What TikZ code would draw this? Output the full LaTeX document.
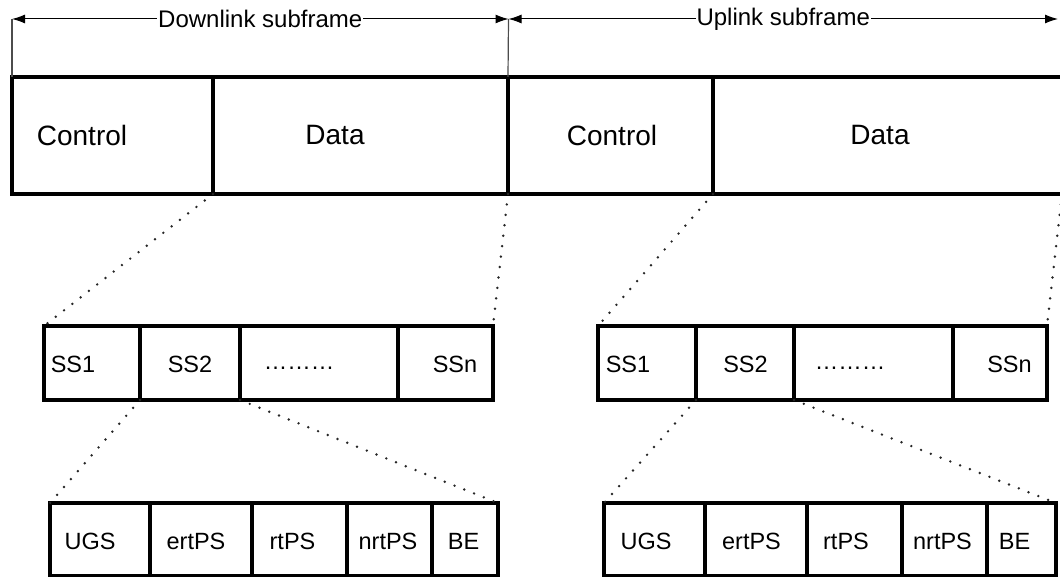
\documentclass[tikz,border=0pt]{standalone}
\usepackage{fontspec}
\setmainfont{Liberation Sans}
\usetikzlibrary{arrows.meta}
\tikzset{
  cell/.style={draw, line width=3.4pt, anchor=north west, inner sep=0pt, outer sep=0pt},
  toprow/.style={cell, minimum height=117pt},
  midrow/.style={cell, minimum height=74pt},
  botrow/.style={cell, minimum height=73pt},
  bigtxt/.style={font=\fontsize{28}{32}\selectfont, inner sep=0pt, text depth=0pt},
  txt/.style={font=\fontsize{23.5}{28}\selectfont, inner sep=0pt, text depth=0pt},
  hdrtxt/.style={font=\fontsize{24}{28}\selectfont, fill=white, inner xsep=1pt, inner ysep=2pt},
  dimline/.style={line width=1pt, {Latex[length=13pt,width=9pt]}-{Latex[length=13pt,width=9pt]}},
  guide/.style={line width=1.2pt, black!70},
  dots/.style={line width=2.7pt, line cap=round, dash pattern=on 0pt off 10.5pt, black!85}
}
\begin{document}
\begin{tikzpicture}[x=1pt,y=-1pt]
\useasboundingbox (0,0) rectangle (1060,577);
% top row
\node[toprow, minimum width=201pt] (dlc) at (12,77) {};
\node[toprow, minimum width=295pt] (dld) at (213,77) {};
\node[toprow, minimum width=205pt] (ulc) at (508,77) {};
\node[toprow, minimum width=351pt] (uld) at (713,77) {};
\node[bigtxt] (tdlc) at (82,135) {Control};
\node[bigtxt] (tdld) at (335,135) {Data};
\node[bigtxt] (tulc) at (612,135) {Control};
\node[bigtxt] (tuld) at (880,135) {Data};
% header arrows
\coordinate (a1) at (12,19);
\coordinate (a2) at (508.5,19);
\coordinate (a3) at (1058,19);
\draw[guide] (dlc.north west) -- (a1);
\draw[guide] (ulc.north west) -- (a2);
\draw[dimline] (a1) -- node[hdrtxt] (hdl) {Downlink subframe} (a2);
\draw[dimline] (a2) -- node[hdrtxt] (hul) {Uplink subframe} (a3);
% middle rows
\node[midrow, minimum width=96pt] (lss1) at (44,326) {};
\node[midrow, minimum width=100pt] (lss2) at (140,326) {};
\node[midrow, minimum width=158pt] (lssd) at (240,326) {};
\node[midrow, minimum width=95pt] (lssn) at (398,326) {};
\node[txt] (tlss1) at (73,364) {SS1};
\node[txt] (tlss2) at (190,364) {SS2};
\node[txt] (tlssd) at (299,368) {………};
\node[txt] (tlssn) at (455,364) {SSn};
\node[midrow, minimum width=98pt] (rss1) at (598,326) {};
\node[midrow, minimum width=98pt] (rss2) at (696,326) {};
\node[midrow, minimum width=159pt] (rssd) at (794,326) {};
\node[midrow, minimum width=94pt] (rssn) at (953,326) {};
\node[txt] (trss1) at (628,364) {SS1};
\node[txt] (trss2) at (745.5,364) {SS2};
\node[txt] (trssd) at (850,368) {………};
\node[txt] (trssn) at (1009.5,364) {SSn};
% bottom rows
\node[botrow, minimum width=100pt] (lugs) at (50,503) {};
\node[botrow, minimum width=102pt] (lert) at (150,503) {};
\node[botrow, minimum width=95pt] (lrt) at (252,503) {};
\node[botrow, minimum width=85pt] (lnrt) at (347,503) {};
\node[botrow, minimum width=66pt] (lbe) at (432,503) {};
\node[txt] (tlugs) at (90,541) {UGS};
\node[txt] (tlert) at (196,541) {ertPS};
\node[txt] (tlrt) at (292.5,541) {rtPS};
\node[txt] (tlnrt) at (388,541) {nrtPS};
\node[txt] (tlbe) at (463.5,541) {BE};
\node[botrow, minimum width=101pt] (rugs) at (604,503) {};
\node[botrow, minimum width=102pt] (rert) at (705,503) {};
\node[botrow, minimum width=95pt] (rrt) at (807,503) {};
\node[botrow, minimum width=85pt] (rnrt) at (902,503) {};
\node[botrow, minimum width=69pt] (rbe) at (987,503) {};
\node[txt] (trugs) at (646,541) {UGS};
\node[txt] (trert) at (751.5,541) {ertPS};
\node[txt] (trrt) at (846,541) {rtPS};
\node[txt] (trnrt) at (942.5,541) {nrtPS};
\node[txt] (trbe) at (1014.5,541) {BE};
% dotted expansion lines
\draw[dots] (dld.south west) -- (lss1.north west);
\draw[dots] (dld.south east) -- (lssn.north east);
\draw[dots] (uld.south west) -- (rss1.north west);
\draw[dots] ([xshift=-2pt]uld.south east) -- (rssn.north east);
\draw[dots] (lss2.south west) -- (lugs.north west);
\draw[dots] (lss2.south east) -- (lbe.north east);
\draw[dots] (rss2.south west) -- (rugs.north west);
\draw[dots] (rss2.south east) -- (rbe.north east);
\end{tikzpicture}
\end{document}
